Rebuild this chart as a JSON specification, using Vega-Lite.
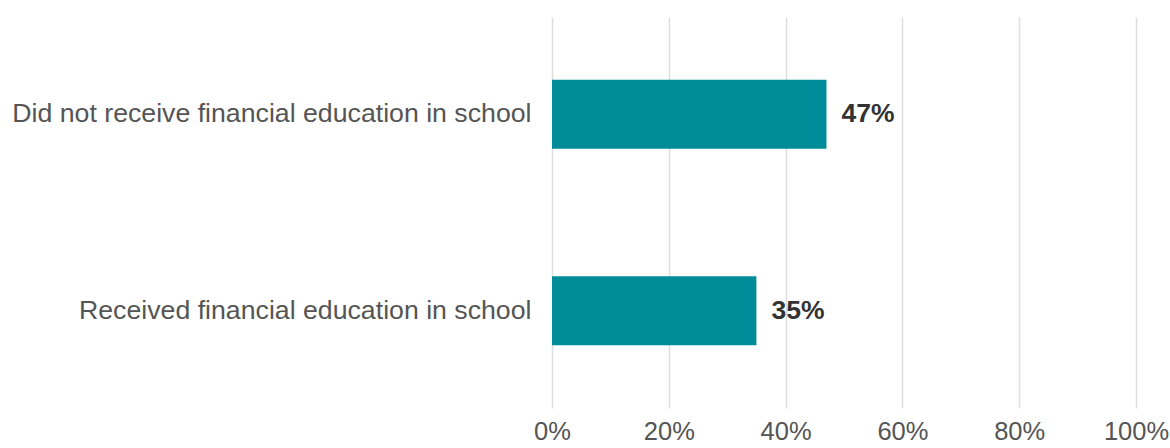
{
  "$schema": "https://vega.github.io/schema/vega-lite/v6.json",
  "autosize": {"type": "none"},
  "padding": {"left": 552, "top": 17, "right": 34, "bottom": 40},
  "width": 584,
  "height": 391,
  "background": "white",
  "config": {"view": {"stroke": null}, "font": "Liberation Sans"},
  "data": {"values": [
    {"group": "Did not receive financial education in school", "share": 0.47},
    {"group": "Received financial education in school", "share": 0.35}
  ]},
  "encoding": {
    "y": {"field": "group", "type": "nominal", "sort": null,
      "scale": {"paddingInner": 0.65, "paddingOuter": 0.32},
      "axis": {"title": null, "domain": false, "ticks": false, "labelPadding": 21, "labelFontSize": 26.7, "labelColor": "#555555", "labelFont": "Liberation Sans", "labelLimit": 600}},
    "x": {"field": "share", "type": "quantitative",
      "scale": {"domain": [0, 1], "nice": false},
      "axis": {"title": null, "format": ".0%", "values": [0, 0.2, 0.4, 0.6, 0.8, 1], "domain": false, "ticks": false, "grid": true, "gridColor": "#dddddd", "gridWidth": 1.5, "labelPadding": 11, "labelFontSize": 25.5, "labelColor": "#555555", "labelFont": "Liberation Sans", "labelFlush": false}}
  },
  "layer": [
    {"mark": {"type": "bar", "color": "#008B98"}},
    {"mark": {"type": "text", "align": "left", "baseline": "middle", "dx": 15, "fontSize": 26.5, "fontWeight": "bold", "color": "#333333", "font": "Liberation Sans"},
     "encoding": {"text": {"field": "share", "type": "quantitative", "format": ".0%"}}}
  ]
}
